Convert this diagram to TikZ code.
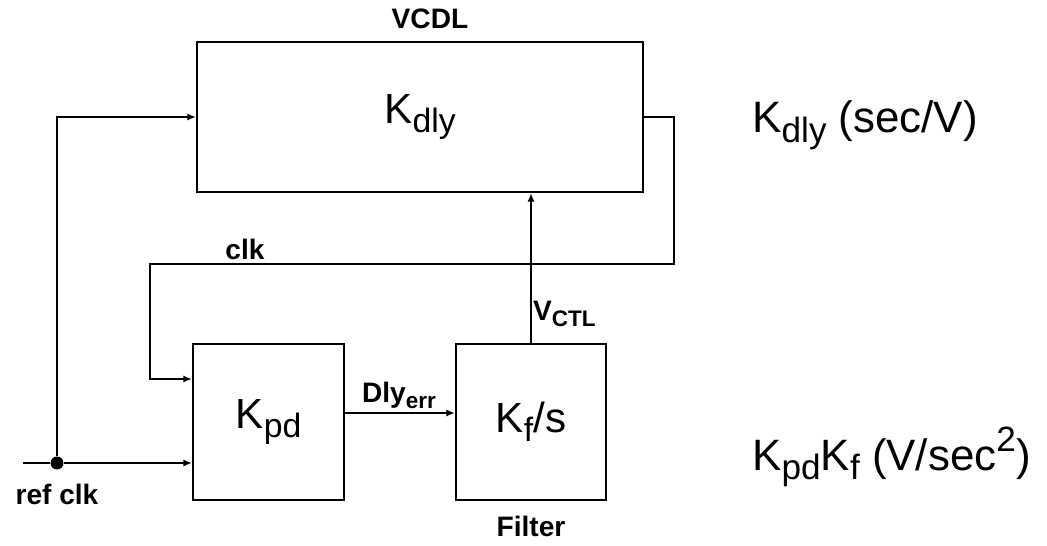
\documentclass[tikz,border=0pt]{standalone}
\usepackage{fontspec}
\setmainfont{Liberation Sans}
\usetikzlibrary{arrows.meta,positioning}

\newlength\smalltxt
\newcommand\subtxt[1]{\setlength\smalltxt{0.8\fontdimen6\font}\raisebox{-0.22em}{\fontsize{\the\smalltxt}{\the\smalltxt}\selectfont #1}}
\newcommand\suptxt[1]{\setlength\smalltxt{0.8\fontdimen6\font}\raisebox{0.42em}{\fontsize{\the\smalltxt}{\the\smalltxt}\selectfont #1}}

\begin{document}
\begin{tikzpicture}[
    x=0.02cm, y=-0.02cm,
    block/.style={rectangle,draw,line width=1.25pt,inner sep=0pt,font=\fontsize{24}{28}\selectfont},
    lbl/.style={font=\fontsize{16}{19}\selectfont\bfseries,inner sep=1pt},
    gain/.style={font=\fontsize{25}{29}\selectfont,anchor=west,inner sep=0pt},
    wire/.style={line width=1.25pt},
    arrow/.style={-{Latex[length=1.7mm,width=1.4mm]},line width=1.25pt}
]
\useasboundingbox (0,0) rectangle (1047,546);
\node[block,minimum width=8.92cm,minimum height=3cm] (vcdl) at (420,117) {K\subtxt{dly}};
\node[block,minimum width=3.02cm,minimum height=3.12cm] (kpd) at (268.5,422) {K\subtxt{pd}};
\node[block,minimum width=3cm,minimum height=3.12cm] (filt) at (531,422) {K\subtxt{f}/s};
\node[circle,fill,inner sep=0pt,minimum size=0.26cm] (dot) at (57,463) {};
\coordinate (refin) at (23,463);

% labels
\node[lbl,above=0.2cm of vcdl.north,xshift=0.2cm] (vcdlname) {VCDL};
\node[lbl,below=0.25cm of filt] (filtname) {Filter};
\node[lbl] (refname) at (57,494) {ref clk};
\node[lbl,anchor=south] (clkname) at (245,262) {clk};
\node[lbl,anchor=west] (vctl) at (531,314) {V\subtxt{CTL}};
\node[lbl,anchor=south] (dlyerr) at (399,411) {Dly\subtxt{err}};
\node[gain] (kdlyunit) at (752,125) {K\subtxt{dly} (sec/V)};
\node[gain] (kpdunit) at (752,457) {K\subtxt{pd}K\subtxt{f} (V/sec\suptxt{2})};

% connections
\draw[wire] (refin) -- (dot);
\draw[arrow] (dot) |- (vcdl.west);
\draw[arrow] (dot) -- (dot -| kpd.west);
\draw[arrow] (vcdl.east) -| (674,264) -- (150,264) |- ([yshift=0.86cm]kpd.west);
\draw[arrow] ([yshift=0.18cm]kpd.east) -- ([yshift=0.18cm]filt.west);
\draw[arrow] (filt.north) -- (filt.north |- vcdl.south);
\end{tikzpicture}
\end{document}
